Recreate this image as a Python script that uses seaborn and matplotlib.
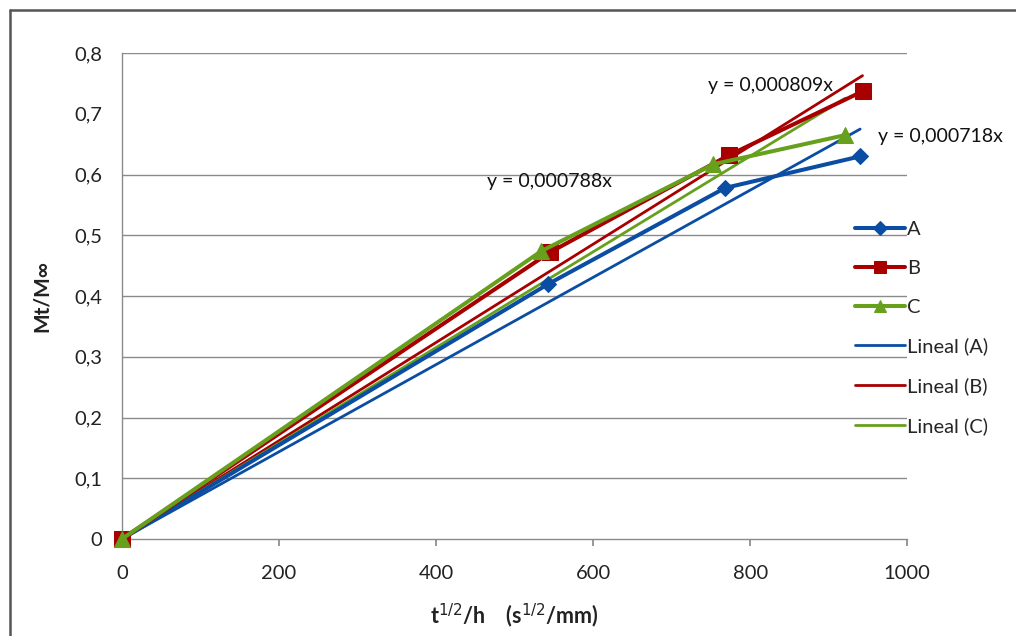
import numpy as np
import pandas as pd
import seaborn as sns
import matplotlib.pyplot as plt
from matplotlib.ticker import FuncFormatter
from matplotlib.lines import Line2D

# data
x_a = [0, 543, 768, 940]
y_a = [0, 0.420, 0.578, 0.630]
x_b = [0, 545, 773, 943]
y_b = [0, 0.472, 0.632, 0.737]
x_c = [0, 534, 753, 921]
y_c = [0, 0.474, 0.617, 0.665]

series_names = ['A', 'B', 'C']
slopes = [0.000718, 0.000809, 0.000788]
slope_labels = ['y = 0,000718x', 'y = 0,000809x', 'y = 0,000788x']
label_pos = [(963, 0.662), (746, 0.746), (465, 0.589)]

colors = ['#0B4DA2', '#A80000', '#66A01C']
markers = ['D', 's', '^']
msizes = [8, 11, 11]

sns.set_theme(style='white')
plt.rcParams['font.family'] = ['Lato', 'DejaVu Sans']

fig = plt.figure(figsize=(10.16, 6.36), dpi=100)
ax = fig.add_axes([0.120, 0.1525, 0.773, 0.764])

xs = [x_a, x_b, x_c]
ys = [y_a, y_b, y_c]

# series with markers
for name, xv, yv, c, m, ms in zip(series_names, xs, ys, colors, markers, msizes):
    df = pd.DataFrame({'x': xv, 'y': yv})
    sns.lineplot(data=df, x='x', y='y', ax=ax, color=c, marker=m, markersize=ms,
                 markeredgecolor=c, linewidth=2.9, label=name, sort=False,
                 zorder=3, clip_on=False)

# linear trendlines through origin
for name, xv, s, c in zip(series_names, xs, slopes, colors):
    tx = np.array([0, xv[-1]])
    sns.lineplot(x=tx, y=s * tx, ax=ax, color=c, linewidth=2.0,
                 label='Lineal (' + name + ')', zorder=2)

for txt, (px, py) in zip(slope_labels, label_pos):
    ax.text(px, py, txt, fontsize=14, va='center', ha='left', color='#111111')

ax.set_xlim(0, 1000)
ax.set_ylim(0, 0.8)
ax.set_xticks(np.arange(0, 1001, 200))
ax.set_yticks(np.arange(0, 0.81, 0.1))
fmt = FuncFormatter(lambda v, p: '0' if abs(v) < 1e-9 else ('%.1f' % v).replace('.', ','))
ax.yaxis.set_major_formatter(fmt)

# gridlines (Excel shows no 0,7 line)
for gy in [0.1, 0.2, 0.3, 0.4, 0.5, 0.6, 0.8]:
    ax.axhline(gy, color='#8a8a8a', linewidth=1, zorder=1)

for side in ['top', 'right']:
    ax.spines[side].set_visible(False)
for side in ['left', 'bottom']:
    ax.spines[side].set_color('#8a8a8a')
    ax.spines[side].set_linewidth(1)

ax.tick_params(axis='x', direction='out', length=5, color='#8a8a8a', labelsize=14.5,
               labelcolor='#222222', pad=14, bottom=True)
ax.tick_params(axis='y', length=0, labelsize=14.5, labelcolor='#222222', pad=14)

ax.set_xlabel('t$^{1/2}$/h    (s$^{1/2}$/mm)', fontsize=15.5, fontweight='bold',
              color='#222222', labelpad=14)
ax.set_ylabel('Mt/M∞', fontsize=15, fontweight='bold', color='#222222', labelpad=16)

ax.get_legend().remove()
handles, labels = ax.get_legend_handles_labels()
fig.legend(handles, labels, loc='upper left', bbox_to_anchor=(855 / 1016, 1 - 221 / 636),
           frameon=False, fontsize=14.5, handlelength=2.5, handletextpad=0.1,
           labelspacing=1.08, borderpad=0, borderaxespad=0, markerscale=0.85)

# outer frame
fig.add_artist(Line2D([10 / 1016, 1], [1 - 10 / 636, 1 - 10 / 636],
                      transform=fig.transFigure, color='#555555', linewidth=1.8))
fig.add_artist(Line2D([10 / 1016, 10 / 1016], [0, 1 - 10 / 636],
                      transform=fig.transFigure, color='#555555', linewidth=1.8))

fig.savefig('out.png', dpi=100)
